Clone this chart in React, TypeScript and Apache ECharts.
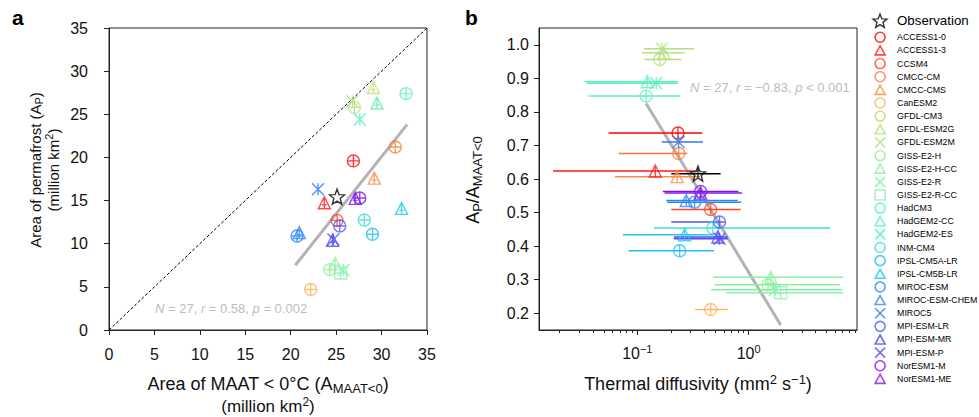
import React, { useEffect, useRef } from 'react';
import * as echarts from 'echarts';

const models = ['ACCESS1-0', 'ACCESS1-3', 'CCSM4', 'CMCC-CM', 'CMCC-CMS', 'CanESM2', 'GFDL-CM3', 'GFDL-ESM2G', 'GFDL-ESM2M', 'GISS-E2-H', 'GISS-E2-H-CC', 'GISS-E2-R', 'GISS-E2-R-CC', 'HadCM3', 'HadGEM2-CC', 'HadGEM2-ES', 'INM-CM4', 'IPSL-CM5A-LR', 'IPSL-CM5B-LR', 'MIROC-ESM', 'MIROC-ESM-CHEM', 'MIROC5', 'MPI-ESM-LR', 'MPI-ESM-MR', 'MPI-ESM-P', 'NorESM1-M', 'NorESM1-ME'];
const markerKinds = ['o', '^', 'o', 'o', '^', 'o', 'o', '^', 'x', 'o', '^', 'x', 's', 'o', '^', 'x', 'o', 'o', '^', 'o', '^', 'x', 'o', '^', 'x', 'o', '^'];
const colors = ['#ff0000', '#ff1a1a', '#ff4422', '#ff7a3a', '#ff8a44', '#ffb45a', '#b8dc78', '#bfe07a', '#b4de84', '#8ef08e', '#90f0a0', '#80f0a8', '#90f0b4', '#5ef0c0', '#60f0b4', '#50f0bc', '#3ee0d4', '#20bff0', '#22c8ea', '#2288f4', '#3088f4', '#3474f4', '#5456f4', '#5048f4', '#504cf4', '#8010f4', '#8418f4'];

// Panel a: area of MAAT<0 vs area of permafrost (million km2)
const areaMAAT = [26.9, 23.7, 25.1, 31.5, 29.2, 22.2, 27.0, 29.1, 26.8, 24.3, 24.9, 25.8, 25.5, 32.7, 29.5, 27.6, 28.1, 29.0, 32.2, 20.7, 20.95, 23.0, 25.4, 24.6, 24.7, 27.6, 27.1];
const areaPermafrost = [19.6, 14.75, 12.7, 21.2, 17.6, 4.7, 25.8, 28.1, 26.5, 7.0, 7.7, 6.95, 6.6, 27.4, 26.3, 24.4, 12.75, 11.1, 14.1, 10.9, 11.3, 16.3, 12.05, 10.4, 10.5, 15.3, 15.25];

// Panel b: thermal diffusivity (with range) vs A_P / A_MAAT<0
const diffusivity = [0.232, 0.145, 0.456, 0.236, 0.228, 0.456, 0.159, 0.173, 0.166, 1.49, 1.58, 1.73, 1.94, 0.120, 0.123, 0.148, 0.478, 0.24, 0.266, 0.327, 0.275, 0.235, 0.548, 0.53, 0.548, 0.37, 0.37];
const diffusivityLow = [0.0552, 0.0175, 0.202, 0.068, 0.063, 0.331, 0.116, 0.110, 0.115, 0.495, 0.478, 0.46, 0.63, 0.0365, 0.0336, 0.0355, 0.141, 0.0836, 0.0743, 0.186, 0.182, 0.166, 0.202, 0.213, 0.213, 0.17, 0.176];
const diffusivityHigh = [0.383, 0.34, 0.847, 0.281, 0.365, 0.652, 0.248, 0.266, 0.323, 6.57, 7.08, 6.9, 7.03, 0.245, 0.232, 0.232, 5.38, 0.488, 0.488, 0.858, 0.80, 0.389, 0.61, 0.65, 0.65, 0.81, 0.87];
const areaRatio = [0.737, 0.624, 0.509, 0.676, 0.607, 0.211, 0.956, 0.976, 0.988, 0.285, 0.307, 0.270, 0.261, 0.847, 0.890, 0.885, 0.454, 0.386, 0.434, 0.531, 0.536, 0.710, 0.472, 0.427, 0.422, 0.563, 0.558];

// Observation
const obsMAAT = 25.1;
const obsPermafrost = 15.45;
const obsDiffusivity = 0.351;
const obsDiffusivityLow = 0.202;
const obsDiffusivityHigh = 0.56;
const obsRatio = 0.616;

// Regression lines
const fitA = [[20.5, 7.5], [32.8, 23.8]];
const fitB = [[0.12, 0.825], [1.94, 0.165]];
const oneToOne = [[0, 0], [35, 35]];

// Axes
const areaMin = 0;
const areaMax = 35;
const areaStep = 5;
const diffMin = 0.0131;
const diffMax = 9.4;
const diffMajorExp = [-1, 0];
const diffMinor = [0.02, 0.03, 0.04, 0.05, 0.06, 0.07, 0.08, 0.09, 0.2, 0.3, 0.4, 0.5, 0.6, 0.7, 0.8, 0.9, 2, 3, 4, 5, 6, 7, 8, 9];
const ratioMin = 0.15;
const ratioMax = 1.05;
const ratioTicks = [0.2, 0.3, 0.4, 0.5, 0.6, 0.7, 0.8, 0.9, 1.0];

const FONT = "'Liberation Sans', Arial, Helvetica, sans-serif";
const AX = '#222';
const TXT = '#111';

const circle = 'M0,-10A10,10,0,1,1,0,10A10,10,0,1,1,0,-10Z';
const tri = 'M0,-10L10,8L-10,8Z';
const cross = 'M-10,-10L10,10M-10,10L10,-10';
const square = 'M-10,-10L10,-10L10,10L-10,10Z';
const star = 'M0,-10L2.5,-3.4L9.51,-3.09L4.05,1.3L5.88,8.09L0,4.3L-5.88,8.09L-4.05,1.3L-9.51,-3.09L-2.5,-3.4Z';

const symA: Record<string, string> = {
  o: 'path://' + circle + 'M-10,0L10,0M0,-10L0,10',
  '^': 'path://' + tri + 'M0,-10L0,8M-4,2L4,2',
  x: 'path://' + cross + 'M0,-10L0,10',
  s: 'path://' + square + 'M0,-10L0,10M-10,0L10,0',
};
const symB: Record<string, string> = {
  o: 'path://' + circle + 'M0,-10L0,10',
  '^': 'path://' + tri + 'M0,-10L0,8',
  x: 'path://' + cross + 'M0,-10L0,10',
  s: 'path://' + square + 'M0,-10L0,10',
};
const legendIcons: Record<string, string> = {
  o: 'path://' + circle,
  '^': 'path://' + tri,
  x: 'path://' + cross,
  s: 'path://' + square,
};

function buildOption() {
  const series: any[] = [];
  series.push({
    type: 'line', xAxisIndex: 0, yAxisIndex: 0, data: oneToOne, symbol: 'none', silent: true, z: 1,
    lineStyle: { color: '#000', width: 1, type: [3, 2] },
  });
  series.push({
    type: 'line', xAxisIndex: 0, yAxisIndex: 0, data: fitA, symbol: 'none', silent: true, z: 1,
    lineStyle: { color: '#b3b3b3', width: 3 },
  });
  series.push({
    type: 'line', xAxisIndex: 1, yAxisIndex: 1, data: fitB, symbol: 'none', silent: true, z: 1,
    lineStyle: { color: '#b3b3b3', width: 3 },
  });
  const errData = models.map((_, i) => [diffusivityLow[i], diffusivityHigh[i], areaRatio[i], i]);
  errData.push([obsDiffusivityLow, obsDiffusivityHigh, obsRatio, -1]);
  series.push({
    type: 'custom', name: 'range', xAxisIndex: 1, yAxisIndex: 1, data: errData, silent: true, z: 2,
    encode: { x: [0, 1], y: 2 },
    renderItem: (params: any, api: any) => {
      const y = api.value(2);
      const p1 = api.coord([api.value(0), y]);
      const p2 = api.coord([api.value(1), y]);
      const ci = api.value(3);
      return {
        type: 'line',
        shape: { x1: p1[0], y1: p1[1], x2: p2[0], y2: p2[1] },
        style: { stroke: ci < 0 ? '#000' : colors[ci], lineWidth: 1.5 },
      };
    },
  });
  models.forEach((m, i) => {
    const st = { color: 'rgba(0,0,0,0)', borderColor: colors[i], borderWidth: 1.4 };
    series.push({
      type: 'scatter', name: m, xAxisIndex: 0, yAxisIndex: 0, z: 3,
      data: [[areaMAAT[i], areaPermafrost[i]]],
      symbol: symA[markerKinds[i]], symbolSize: 12, itemStyle: st,
    });
    series.push({
      type: 'scatter', name: m, xAxisIndex: 1, yAxisIndex: 1, z: 3,
      data: [[diffusivity[i], areaRatio[i]]],
      symbol: symB[markerKinds[i]], symbolSize: 12, itemStyle: st,
    });
  });
  const obsStyle = { color: 'rgba(0,0,0,0)', borderColor: '#000', borderWidth: 1.4 };
  series.push({
    type: 'scatter', name: 'Observation', xAxisIndex: 0, yAxisIndex: 0, z: 4,
    data: [[obsMAAT, obsPermafrost]], symbol: 'path://' + star, symbolSize: 15, itemStyle: obsStyle,
  });
  series.push({
    type: 'scatter', name: 'Observation', xAxisIndex: 1, yAxisIndex: 1, z: 4,
    data: [[obsDiffusivity, obsRatio]], symbol: 'path://' + star + 'M0,-10L0,4.3', symbolSize: 15, itemStyle: obsStyle,
  });

  const tickLabel = { fontSize: 16, color: TXT, fontFamily: FONT };
  const logMin = Math.log10(diffMin);
  const logMax = Math.log10(diffMax);
  const line = { onZero: false, lineStyle: { color: AX } };

  const richFor = (size: number, subSize: number) => ({
    n: { fontSize: size, lineHeight: size + 4, fontFamily: FONT },
    sub: { fontSize: subSize, verticalAlign: 'bottom', fontFamily: FONT },
    sup: { fontSize: subSize, verticalAlign: 'top', fontFamily: FONT },
  });
  const statRich = {
    t: { fontSize: 13, fontFamily: FONT },
    i: { fontSize: 13, fontFamily: FONT, fontStyle: 'italic' },
  };
  const mkText = (x: number, y: number, text: string, size: number, subSize: number, rotation = 0) => ({
    type: 'text', x, y, rotation, silent: true,
    style: { text, align: 'center', verticalAlign: 'middle', fill: TXT, rich: richFor(size, subSize), fontFamily: FONT, fontSize: size },
  });

  return {
    animation: false,
    backgroundColor: '#fff',
    grid: [
      { left: 109, top: 28, width: 318, height: 302, show: true, borderColor: AX, borderWidth: 1, backgroundColor: 'transparent' },
      { left: 539, top: 28, width: 318, height: 302, show: true, borderColor: AX, borderWidth: 1, backgroundColor: 'transparent' },
    ],
    xAxis: [
      {
        gridIndex: 0, type: 'value', position: 'bottom', min: areaMin, max: areaMax, interval: areaStep,
        axisLine: line, axisTick: { length: 5, lineStyle: { color: AX } },
        axisLabel: { ...tickLabel, margin: 16 }, splitLine: { show: false },
      },
      {
        gridIndex: 1, type: 'log', position: 'bottom', min: diffMin, max: diffMax,
        axisLine: line, axisTick: { show: false }, axisLabel: { show: false }, splitLine: { show: false },
      },
      {
        gridIndex: 1, type: 'value', position: 'bottom', min: logMin, max: logMax,
        axisLine: { show: false, onZero: false }, axisLabel: { show: false }, splitLine: { show: false },
        axisTick: { length: 3, customValues: diffMinor.map((v) => Math.log10(v)), lineStyle: { color: AX } },
      },
      {
        gridIndex: 1, type: 'value', position: 'bottom', min: logMin, max: logMax,
        axisLine: { show: false, onZero: false }, splitLine: { show: false },
        axisTick: { length: 5, customValues: diffMajorExp, lineStyle: { color: AX } },
        axisLabel: {
          customValues: diffMajorExp, margin: 13,
          formatter: (v: number) => `{b|10}{s|${v < 0 ? '\u2212' : ''}${Math.abs(Math.round(v))}}`,
          rich: {
            b: { fontSize: 16, lineHeight: 21, color: TXT, fontFamily: FONT },
            s: { fontSize: 11, verticalAlign: 'top', color: TXT, fontFamily: FONT },
          },
        },
      },
    ],
    yAxis: [
      {
        gridIndex: 0, type: 'value', min: areaMin, max: areaMax, interval: areaStep,
        axisLine: line, axisTick: { length: 5, lineStyle: { color: AX } },
        axisLabel: { ...tickLabel, margin: 21 }, splitLine: { show: false },
      },
      {
        gridIndex: 1, type: 'value', min: ratioMin, max: ratioMax,
        axisLine: line,
        axisTick: { length: 5, customValues: ratioTicks, lineStyle: { color: AX } },
        axisLabel: { ...tickLabel, margin: 10, customValues: ratioTicks, formatter: (v: number) => v.toFixed(1) },
        splitLine: { show: false },
      },
    ],
    legend: [
      {
        orient: 'vertical', left: 872.3, top: 12.7, padding: 0, itemGap: 0, itemWidth: 14, itemHeight: 14,
        data: [{ name: 'Observation', icon: 'path://' + star }],
        itemStyle: { borderWidth: 1.4 },
        textStyle: { fontSize: 13.3, color: '#000', fontFamily: FONT, lineHeight: 16, padding: [0, 0, 0, 5] },
      },
      {
        orient: 'vertical', left: 874.3, top: 30.7, padding: 0, itemGap: 0, itemWidth: 10, itemHeight: 10,
        data: models.map((m, i) => ({ name: m, icon: legendIcons[markerKinds[i]] })),
        itemStyle: { borderWidth: 1.6 },
        textStyle: { fontSize: 8.8, color: '#000', fontFamily: FONT, lineHeight: 13.14, padding: [0, 0, 0, 7] },
      },
    ],
    graphic: [
      { type: 'text', x: 12, y: 7, silent: true, style: { text: 'a', fontSize: 21, fontWeight: 'bold', fontFamily: FONT, fill: '#000' } },
      { type: 'text', x: 465, y: 7, silent: true, style: { text: 'b', fontSize: 21, fontWeight: 'bold', fontFamily: FONT, fill: '#000' } },
      mkText(35, 170, '{n|Area of permafrost (A}{sub|P}{n|)}', 15, 11, Math.PI / 2),
      mkText(53, 170, '{n|(million km}{sup|2}{n|)}', 15, 11, Math.PI / 2),
      mkText(473, 180, '{n|A}{sub|P}{n|/A}{sub|MAAT<0}', 18, 13, Math.PI / 2),
      mkText(268, 384, '{n|Area of MAAT < 0°C (A}{sub|MAAT<0}{n|)}', 18, 13),
      mkText(268, 406, '{n|(million km}{sup|2}{n|)}', 17, 12),
      mkText(698, 384, '{n|Thermal diffusivity (mm}{sup|2}{n| s}{sup|\u22121}{n|)}', 18, 13),
      {
        type: 'text', x: 155, y: 308, silent: true,
        style: { text: '{i|N}{t| = 27, }{i|r}{t| = 0.58, }{i|p}{t| = 0.002}', align: 'left', verticalAlign: 'middle', fill: '#bdbdbd', rich: statRich, fontFamily: FONT, fontSize: 13 },
      },
      {
        type: 'text', x: 690, y: 87, silent: true,
        style: { text: '{i|N}{t| = 27, }{i|r}{t| = \u22120.83, }{i|p}{t| < 0.001}', align: 'left', verticalAlign: 'middle', fill: '#bdbdbd', rich: statRich, fontFamily: FONT, fontSize: 13 },
      },
    ],
    series,
  };
}

export default function App() {
  const ref = useRef<HTMLDivElement>(null);
  useEffect(() => {
    if (!ref.current) return;
    const chart = echarts.init(ref.current, null, { renderer: 'svg' });
    chart.setOption(buildOption() as any);
    return () => chart.dispose();
  }, []);
  return (
    <div
      ref={ref}
      style={{ position: 'fixed', left: 0, top: 0, width: 979, height: 417, background: '#fff' }}
    />
  );
}
